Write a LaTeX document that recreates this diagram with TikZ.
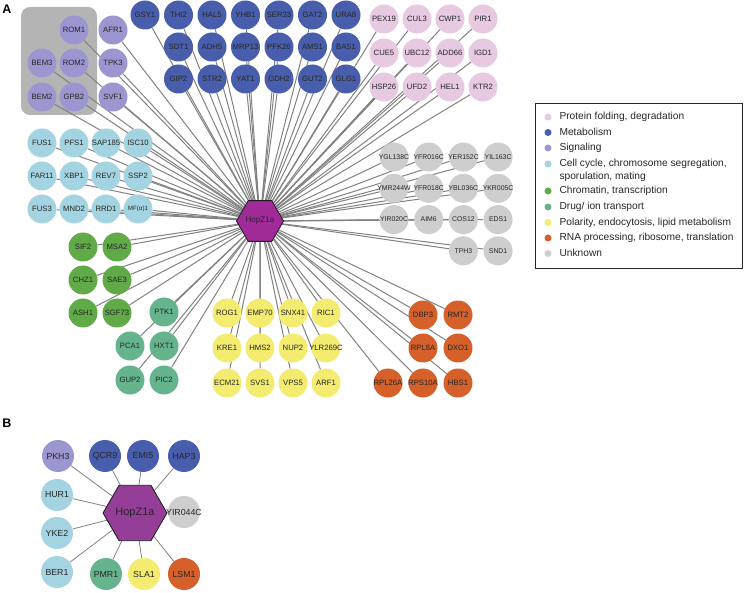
\documentclass[tikz,border=0pt]{standalone}
\usepackage{fontspec}
\setmainfont{Liberation Sans}
\usetikzlibrary{shapes.geometric,backgrounds}

\begin{document}
\begin{tikzpicture}[x=1pt,y=1pt,node distance=33pt,
    gene/.style={circle,minimum size=29pt,inner sep=0pt,text=black!85,
      font=\fontsize{7.7}{8}\selectfont,
      execute at begin node={\hbox to 0pt\bgroup\hss},
      execute at end node={\hss\egroup}},
    geneB/.style={gene,minimum size=32pt,font=\fontsize{8.8}{10}\selectfont},
    ugene/.style={gene,unk,font=\fontsize{6.9}{8}\selectfont},
    prot/.style={fill=colProt},
    metab/.style={fill=colMetab},
    signal/.style={fill=colSignal},
    cycle/.style={fill=colCycle},
    chrom/.style={fill=colChrom},
    drug/.style={fill=colDrug},
    polar/.style={fill=colPolar},
    rna/.style={fill=colRNA},
    unk/.style={fill=colUnk},
    hub/.style={regular polygon,regular polygon sides=6,inner sep=0pt,
      draw=black!90,line width=0.8pt,text=black!85},
    link/.style={draw=colEdge,line width=1pt},
    legdot/.style={circle,minimum size=7pt,inner sep=0pt},
    legtext/.style={anchor=base west,align=left,text=black!85,
      font=\fontsize{10.2}{12.7}\selectfont},
    panel/.style={font=\fontsize{12.5}{14}\selectfont\bfseries}]

\definecolor{colProt}{RGB}{231,201,226}
\definecolor{colMetab}{RGB}{72,94,172}
\definecolor{colSignal}{RGB}{156,150,208}
\definecolor{colCycle}{RGB}{164,211,225}
\definecolor{colChrom}{RGB}{96,170,72}
\definecolor{colDrug}{RGB}{102,180,141}
\definecolor{colPolar}{RGB}{243,236,112}
\definecolor{colRNA}{RGB}{214,96,42}
\definecolor{colUnk}{RGB}{206,206,206}
\definecolor{colBox}{RGB}{180,180,180}
\definecolor{colHubA}{RGB}{161,42,153}
\definecolor{colHubB}{RGB}{148,62,152}
\definecolor{colEdge}{RGB}{130,130,130}

\useasboundingbox (0,0) rectangle (744,-593);

% ---------- panel A ----------
\node[panel] (labA) at (7,-9) {A};

\node[hub,minimum size=38pt,fill=colHubA,
      font=\fontsize{8.1}{9}\selectfont]
      (hubA) at (260,-221) {HopZ1a};

% signaling
\node[gene,signal] (ROM1) at (74,-30) {ROM1};
\node[gene,signal,right of=ROM1,node distance=39pt] (AFR1) {AFR1};
\node[gene,signal] (BEM3) at (42,-63) {BEM3};
\node[gene,signal,right of=BEM3,node distance=32pt] (ROM2) {ROM2};
\node[gene,signal,right of=ROM2,node distance=39pt] (TPK3) {TPK3};
\node[gene,signal] (BEM2) at (42,-97) {BEM2};
\node[gene,signal,right of=BEM2,node distance=32pt] (GPB2) {GPB2};
\node[gene,signal,right of=GPB2,node distance=39pt] (SVF1) {SVF1};

% metabolism
\begin{scope}[node distance=33.5pt]
\node[gene,metab] (GSY1) at (145,-15) {GSY1};
\node[gene,metab,right of=GSY1] (THI2) {THI2};
\node[gene,metab,right of=THI2] (HAL5) {HAL5};
\node[gene,metab,right of=HAL5] (YHB1) {YHB1};
\node[gene,metab,right of=YHB1] (SER33) {SER33};
\node[gene,metab,right of=SER33] (GAT2) {GAT2};
\node[gene,metab,right of=GAT2] (URA8) {URA8};
\node[gene,metab,below of=THI2,node distance=32pt] (SDT1) {SDT1};
\node[gene,metab,right of=SDT1] (ADH5) {ADH5};
\node[gene,metab,right of=ADH5] (MRP13) {MRP13};
\node[gene,metab,right of=MRP13] (PFK26) {PFK26};
\node[gene,metab,right of=PFK26] (AMS1) {AMS1};
\node[gene,metab,right of=AMS1] (BAS1) {BAS1};
\node[gene,metab,below of=SDT1,node distance=32pt] (GIP2) {GIP2};
\node[gene,metab,right of=GIP2] (STR2) {STR2};
\node[gene,metab,right of=STR2] (YAT1) {YAT1};
\node[gene,metab,right of=YAT1] (GDH2) {GDH2};
\node[gene,metab,right of=GDH2] (GUT2) {GUT2};
\node[gene,metab,right of=GUT2] (GLG1) {GLG1};
\end{scope}

% protein folding, degradation
\node[gene,prot] (PEX19) at (384,-19) {PEX19};
\node[gene,prot,right of=PEX19] (CUL3) {CUL3};
\node[gene,prot,right of=CUL3] (CWP1) {CWP1};
\node[gene,prot,right of=CWP1] (PIR1) {PIR1};
\node[gene,prot,below of=PEX19,node distance=34pt] (CUE5) {CUE5};
\node[gene,prot,right of=CUE5] (UBC12) {UBC12};
\node[gene,prot,right of=UBC12] (ADD66) {ADD66};
\node[gene,prot,right of=ADD66] (IGD1) {IGD1};
\node[gene,prot,below of=CUE5,node distance=34pt] (HSP26) {HSP26};
\node[gene,prot,right of=HSP26] (UFD2) {UFD2};
\node[gene,prot,right of=UFD2] (HEL1) {HEL1};
\node[gene,prot,right of=HEL1] (KTR2) {KTR2};

% unknown
\begin{scope}[node distance=34.7pt]
\node[ugene] (YGL138C) at (394,-157) {YGL138C};
\node[ugene,right of=YGL138C] (YFR016C) {YFR016C};
\node[ugene,right of=YFR016C] (YER152C) {YER152C};
\node[ugene,right of=YER152C] (YIL163C) {YIL163C};
\node[ugene,below of=YGL138C,node distance=31.3pt] (YMR244W) {YMR244W};
\node[ugene,right of=YMR244W] (YFR018C) {YFR018C};
\node[ugene,right of=YFR018C] (YBL036C) {YBL036C};
\node[ugene,right of=YBL036C] (YKR005C) {YKR005C};
\node[ugene,below of=YMR244W,node distance=31.3pt] (YIR020C) {YIR020C};
\node[ugene,right of=YIR020C] (AIM6) {AIM6};
\node[ugene,right of=AIM6] (COS12) {COS12};
\node[ugene,right of=COS12] (EDS1) {EDS1};
\node[ugene,below of=COS12,node distance=31.3pt] (TPH3) {TPH3};
\node[ugene,right of=TPH3] (SND1) {SND1};
\end{scope}

% cell cycle, segregation, sporulation, mating
\begin{scope}[node distance=32pt]
\node[gene,cycle] (FUS1) at (42,-143) {FUS1};
\node[gene,cycle,right of=FUS1] (PFS1) {PFS1};
\node[gene,cycle,right of=PFS1] (SAP185) {SAP185};
\node[gene,cycle,right of=SAP185] (ISC10) {ISC10};
\node[gene,cycle,below of=FUS1,node distance=33pt] (FAR11) {FAR11};
\node[gene,cycle,right of=FAR11] (XBP1) {XBP1};
\node[gene,cycle,right of=XBP1] (REV7) {REV7};
\node[gene,cycle,right of=REV7] (SSP2) {SSP2};
\node[gene,cycle,below of=FAR11,node distance=33pt] (FUS3) {FUS3};
\node[gene,cycle,right of=FUS3] (MND2) {MND2};
\node[gene,cycle,right of=MND2] (RRD1) {RRD1};
\node[gene,cycle,right of=RRD1,font=\fontsize{6.2}{7}\selectfont] (MFa1) {MF(α)1};
\end{scope}

% chromatin, transcription
\begin{scope}[node distance=34pt]
\node[gene,chrom] (SIF2) at (83,-247) {SIF2};
\node[gene,chrom,right of=SIF2] (MSA2) {MSA2};
\node[gene,chrom,below of=SIF2,node distance=33pt] (CHZ1) {CHZ1};
\node[gene,chrom,right of=CHZ1] (SAE3) {SAE3};
\node[gene,chrom,below of=CHZ1,node distance=33pt] (ASH1) {ASH1};
\node[gene,chrom,right of=ASH1] (SGF73) {SGF73};

% drug / ion transport
\node[gene,drug] (PTK1) at (164,-312) {PTK1};
\node[gene,drug] (PCA1) at (130,-346) {PCA1};
\node[gene,drug,right of=PCA1] (HXT1) {HXT1};
\node[gene,drug,below of=PCA1] (GUP2) {GUP2};
\node[gene,drug,right of=GUP2] (PIC2) {PIC2};
\end{scope}

% polarity, endocytosis, lipid metabolism
\node[gene,polar] (ROG1) at (227,-313) {ROG1};
\node[gene,polar,right of=ROG1] (EMP70) {EMP70};
\node[gene,polar,right of=EMP70] (SNX41) {SNX41};
\node[gene,polar,right of=SNX41] (RIC1) {RIC1};
\node[gene,polar,below of=ROG1,node distance=35pt] (KRE1) {KRE1};
\node[gene,polar,right of=KRE1] (HMS2) {HMS2};
\node[gene,polar,right of=HMS2] (NUP2) {NUP2};
\node[gene,polar,right of=NUP2] (YLR269C) {YLR269C};
\node[gene,polar,below of=KRE1,node distance=35pt] (ECM21) {ECM21};
\node[gene,polar,right of=ECM21] (SVS1) {SVS1};
\node[gene,polar,right of=SVS1] (VPS5) {VPS5};
\node[gene,polar,right of=VPS5] (ARF1) {ARF1};

% RNA processing, ribosome, translation
\begin{scope}[node distance=35pt]
\node[gene,rna] (DBP3) at (423,-315) {DBP3};
\node[gene,rna,right of=DBP3] (RMT2) {RMT2};
\node[gene,rna,below of=DBP3,node distance=33pt] (RPL8A) {RPL8A};
\node[gene,rna,right of=RPL8A] (DXO1) {DXO1};
\node[gene,rna,below of=RPL8A] (RPS10A) {RPS10A};
\node[gene,rna,right of=RPS10A] (HBS1) {HBS1};
\node[gene,rna,left of=RPS10A] (RPL26A) {RPL26A};
\end{scope}

% legend
\draw[line width=0.8pt,black!85] (535,-103) rectangle (742,-268);
\node[legdot,prot]   (dProt)   at (548,-117) {};
\node[legdot,metab]  (dMetab)  at (548,-132.5) {};
\node[legdot,signal] (dSignal) at (548,-148) {};
\node[legdot,cycle]  (dCycle)  at (548,-164) {};
\node[legdot,chrom]  (dChrom)  at (548,-191) {};
\node[legdot,drug]   (dDrug)   at (548,-207) {};
\node[legdot,polar]  (dPolar)  at (548,-222.5) {};
\node[legdot,rna]    (dRNA)    at (548,-238) {};
\node[legdot,unk]    (dUnk)    at (548,-253.5) {};
\node[legtext] (tProt)   at (556,-119.7) {Protein folding, degradation};
\node[legtext] (tMetab)  at (556,-135.2) {Metabolism};
\node[legtext] (tSignal) at (556,-150.7) {Signaling};
\node[legtext,anchor=west] (tCycle) at (556,-170.3)
      {Cell cycle, chromosome segregation,\\sporulation, mating};
\node[legtext] (tChrom)  at (556,-193.7) {Chromatin, transcription};
\node[legtext] (tDrug)   at (556,-209.7) {Drug/ ion transport};
\node[legtext] (tPolar)  at (556,-225.2) {Polarity, endocytosis, lipid metabolism};
\node[legtext] (tRNA)    at (556,-240.7) {RNA processing, ribosome, translation};
\node[legtext] (tUnk)    at (556,-256.2) {Unknown};

% ---------- panel B ----------
\node[panel] (labB) at (7,-423) {B};

\node[hub,minimum size=47pt,fill=colHubB,
      font=\fontsize{11}{12}\selectfont]
      (hubB) at (135,-513) {HopZ1a};

\node[geneB,signal] (PKH3) at (58,-456) {PKH3};
\node[geneB,metab] (QCR9) at (105,-456) {QCR9};
\node[geneB,metab] (EMI5) at (143,-456) {EMI5};
\node[geneB,metab] (HAP3) at (184,-456) {HAP3};
\node[geneB,cycle] (HUR1) at (57,-495) {HUR1};
\node[geneB,unk] (YIR044C) at (184,-512) {YIR044C};
\node[geneB,cycle] (YKE2) at (57,-533) {YKE2};
\node[geneB,cycle] (BER1) at (57,-572) {BER1};
\node[geneB,drug] (PMR1) at (106,-574) {PMR1};
\node[geneB,polar] (SLA1) at (144,-574) {SLA1};
\node[geneB,rna] (LSM1) at (184,-574) {LSM1};

% connectors behind the nodes
\begin{scope}[on background layer]
\fill[colBox,rounded corners=9pt] (21,-7) rectangle (97,-115);

\draw[link] (hubA)
  edge (ROM1) edge (AFR1) edge (BEM3) edge (ROM2) edge (TPK3)
  edge (BEM2) edge (GPB2) edge (SVF1)
  edge (GSY1) edge (THI2) edge (HAL5) edge (YHB1) edge (SER33)
  edge (GAT2) edge (URA8) edge (SDT1) edge (ADH5) edge (MRP13)
  edge (PFK26) edge (AMS1) edge (BAS1) edge (GIP2) edge (STR2)
  edge (YAT1) edge (GDH2) edge (GUT2) edge (GLG1)
  edge (PEX19) edge (CUL3) edge (CWP1) edge (PIR1) edge (CUE5)
  edge (UBC12) edge (ADD66) edge (IGD1) edge (HSP26) edge (UFD2)
  edge (HEL1) edge (KTR2)
  edge (YGL138C) edge (YFR016C) edge (YER152C) edge (YIL163C)
  edge (YMR244W) edge (YFR018C) edge (YBL036C) edge (YKR005C)
  edge (YIR020C) edge (AIM6) edge (COS12) edge (EDS1)
  edge (TPH3) edge (SND1)
  edge (FUS1) edge (PFS1) edge (SAP185) edge (ISC10)
  edge (FAR11) edge (XBP1) edge (REV7) edge (SSP2)
  edge (FUS3) edge (MND2) edge (RRD1) edge (MFa1)
  edge (SIF2) edge (MSA2) edge (CHZ1) edge (SAE3) edge (ASH1) edge (SGF73)
  edge (PTK1) edge (PCA1) edge (HXT1) edge (GUP2) edge (PIC2)
  edge (ROG1) edge (EMP70) edge (SNX41) edge (RIC1)
  edge (KRE1) edge (HMS2) edge (NUP2) edge (YLR269C)
  edge (ECM21) edge (SVS1) edge (VPS5) edge (ARF1)
  edge (DBP3) edge (RMT2) edge (RPL8A) edge (DXO1)
  edge (RPL26A) edge (RPS10A) edge (HBS1);

\draw[link,line width=0.8pt] (hubB)
  edge (PKH3) edge (QCR9) edge (EMI5) edge (HAP3) edge (HUR1)
  edge (YIR044C) edge (YKE2) edge (BER1) edge (PMR1) edge (SLA1)
  edge (LSM1);
\end{scope}

\end{tikzpicture}
\end{document}
